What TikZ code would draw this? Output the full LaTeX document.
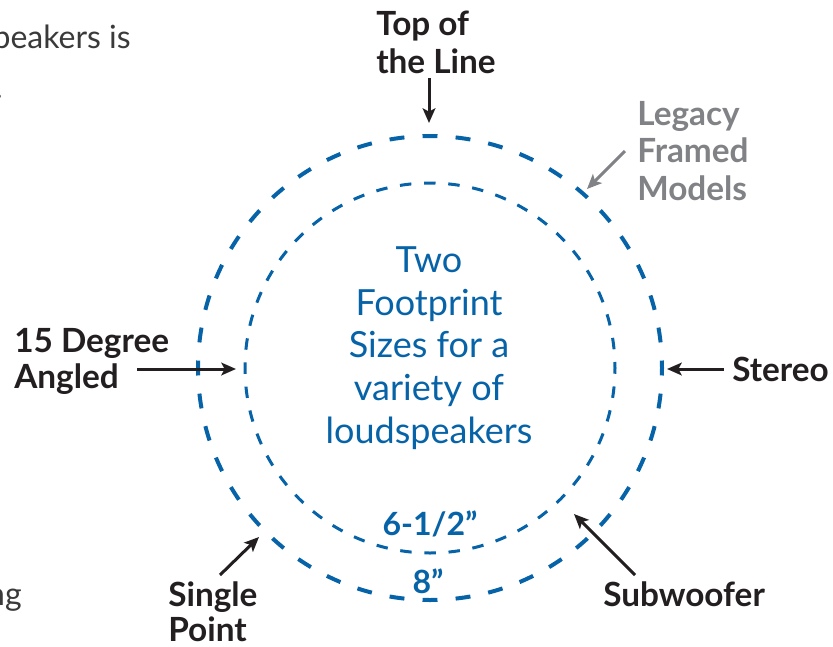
\documentclass[tikz,border=0pt]{standalone}
\usepackage{fontspec}
\setmainfont{Lato}
\usetikzlibrary{arrows.meta}
\definecolor{fpblue}{HTML}{0763A7}
\definecolor{labeldark}{HTML}{231F20}
\definecolor{legacygray}{HTML}{808285}
\definecolor{bodygray}{HTML}{3A3A3A}
\tikzset{
  outerring/.style={draw=fpblue, line width=3pt, dash pattern=on 11.2pt off 13.65pt, dash phase=5.6pt},
  innerring/.style={draw=fpblue, line width=2.25pt, dash pattern=on 8.6pt off 9.56pt, dash phase=4.3pt},
  lbl/.style={text=labeldark, font=\fontsize{25}{28.5}\selectfont\bfseries, align=left, inner sep=0pt, anchor=base west},
  graylbl/.style={lbl, text=legacygray},
  sizelbl/.style={text=fpblue, font=\fontsize{24}{28}\selectfont\bfseries, inner sep=0pt, anchor=base},
  centertxt/.style={text=fpblue, font=\fontsize{27}{31.9}\selectfont, align=center, inner sep=0pt, anchor=base},
  bodytxt/.style={text=bodygray, font=\fontsize{24}{28}\selectfont, inner sep=0pt, anchor=base east},
  pointer/.style={draw=labeldark, line width=2.25pt, -{Stealth[length=11pt,width=9.5pt,inset=2.5pt]}},
  graypointer/.style={pointer, draw=legacygray, color=legacygray}
}
\begin{document}
\begin{tikzpicture}[x=0.75pt,y=-0.75pt]
\useasboundingbox (0,0) rectangle (833,647);
% rings
\coordinate (c) at (430,368);
\path[outerring] (c) circle[radius=232];
\path[innerring] (c) circle[radius=185];
% cropped body text
\node[bodytxt] (b1) at (131,48) {speakers is};
\node[bodytxt] (b2) at (3,98) {.};
\node[bodytxt] (b3) at (22,605) {ng};
% centre text (anchor on last baseline)
\node[centertxt] (ctr) at (429,443) {Two\\Footprint\\Sizes for a\\variety of\\loudspeakers};
% size labels
\node[sizelbl] (s65) at (430,535) {6-1/2”};
\node[sizelbl] (s8) at (428,593) {8”};
% labels (anchor on last baseline)
\node[lbl, font=\fontsize{25}{28.5}\selectfont\bfseries] (top) at (376,73) {Top of\\the Line};
\node[graylbl, font=\fontsize{25}{28}\selectfont\bfseries] (legacy) at (637,200) {Legacy\\Framed\\Models};
\node[lbl, font=\fontsize{25}{27}\selectfont\bfseries] (deg) at (14,388) {15 Degree\\Angled};
\node[lbl] (stereo) at (732,381) {Stereo};
\node[lbl, font=\fontsize{25}{26}\selectfont\bfseries] (single) at (168,641) {Single\\Point};
\node[lbl] (sub) at (603,606) {Subwoofer};
% arrow ends
\coordinate (topT) at (429,78);   \coordinate (topH) at (429,123);
\coordinate (legT) at (625,151);  \coordinate (legH) at (587,189);
\coordinate (degT) at (137,369);  \coordinate (degH) at (236,369);
\coordinate (steT) at (724,369);  \coordinate (steH) at (667,369);
\coordinate (sinT) at (220,575);  \coordinate (sinH) at (259,537);
\coordinate (subT) at (635,575);  \coordinate (subH) at (574,514);
\draw[pointer] (topT) -- (topH);
\draw[graypointer] (legT) -- (legH);
\draw[pointer] (degT) -- (degH);
\draw[pointer] (steT) -- (steH);
\draw[pointer] (sinT) -- (sinH);
\draw[pointer] (subT) -- (subH);
\end{tikzpicture}
\end{document}
